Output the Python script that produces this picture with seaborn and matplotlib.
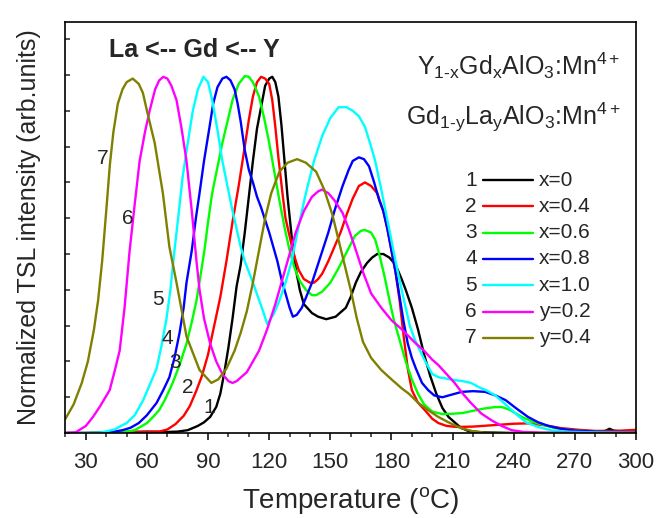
import numpy as np
import pandas as pd
import matplotlib
matplotlib.use("Agg")
import matplotlib.pyplot as plt
from matplotlib.lines import Line2D
import seaborn as sns

# ---------------- data ----------------
t1 = [20, 30, 40, 50, 60, 70, 75, 80, 85, 88, 91, 94, 96, 98, 100, 102, 104, 106, 108, 110, 112, 114, 116, 118,
      120, 121.5, 123, 124.5, 126, 127.5, 129, 131, 133, 135, 137, 141, 144, 148, 152.6, 157.6, 160, 162.5, 165,
      168, 170.5, 173, 176, 179, 182, 185, 187, 190, 193, 196, 199, 202, 205, 208, 211, 214, 218, 225, 240, 260,
      280, 285, 287, 289, 292, 300]
i1 = [0.0, 0.0, 0.002, 0.003, 0.004, 0.003, 0.004, 0.008, 0.02, 0.03, 0.045, 0.073, 0.11, 0.17, 0.24, 0.32, 0.41,
      0.47, 0.56, 0.66, 0.76, 0.85, 0.91, 0.97, 0.99, 0.995, 0.98, 0.94, 0.86, 0.76, 0.66, 0.55, 0.46, 0.40, 0.36,
      0.335, 0.325, 0.318, 0.325, 0.35, 0.38, 0.42, 0.45, 0.475, 0.49, 0.50, 0.50, 0.49, 0.47, 0.43, 0.40, 0.35,
      0.29, 0.22, 0.16, 0.11, 0.07, 0.045, 0.03, 0.015, 0.005, 0.002, 0.0, 0.0, 0.003, 0.006, 0.012, 0.007, 0.005,
      0.005]

t2 = [20, 40, 50, 60, 66, 70, 74, 78, 81, 84, 87, 90, 93, 96, 99, 102, 105, 108, 110, 112, 114, 116, 118, 120,
      121.5, 123, 124.5, 126.5, 128, 130, 132, 134.5, 137, 140, 142, 144, 146, 149, 152, 155, 158, 161, 164, 167,
      170, 173, 176, 178, 180, 182, 184, 186, 188, 190, 193, 197, 200, 203, 207, 212, 220, 230, 240, 247, 255,
      263, 272, 280, 290, 300]
i2 = [0.0, 0.0, 0.002, 0.003, 0.004, 0.01, 0.025, 0.048, 0.075, 0.115, 0.16, 0.22, 0.30, 0.38, 0.48, 0.59, 0.69,
      0.80, 0.875, 0.94, 0.98, 0.995, 0.99, 0.975, 0.93, 0.855, 0.77, 0.67, 0.60, 0.55, 0.50, 0.455, 0.43, 0.42,
      0.42, 0.43, 0.445, 0.48, 0.52, 0.56, 0.61, 0.655, 0.69, 0.70, 0.69, 0.67, 0.62, 0.57, 0.51, 0.45, 0.37,
      0.27, 0.18, 0.12, 0.085, 0.06, 0.04, 0.028, 0.02, 0.017, 0.018, 0.022, 0.026, 0.027, 0.022, 0.014, 0.009,
      0.006, 0.006, 0.009]

t3 = [20, 40, 48, 54, 60, 63, 66, 69, 72.6, 76, 79.4, 82, 84.3, 86, 88.2, 90, 92, 94.5, 97, 99.5, 102, 105, 108,
      110, 112, 115, 117.5, 120, 122.5, 125, 127.5, 130, 132.5, 135, 138, 141, 143, 146, 150, 154, 158, 162, 165,
      167, 170, 172, 174, 176.5, 178.7, 181, 184, 187, 190, 193, 196, 200, 205, 210, 215, 220, 225, 230, 234,
      238, 244, 250, 260, 270, 280, 290, 300]
i3 = [0.0, 0.0, 0.002, 0.008, 0.028, 0.045, 0.064, 0.095, 0.14, 0.19, 0.25, 0.31, 0.37, 0.43, 0.51, 0.59, 0.67,
      0.74, 0.81, 0.87, 0.93, 0.975, 0.997, 0.995, 0.98, 0.94, 0.88, 0.81, 0.73, 0.65, 0.575, 0.51, 0.46, 0.425,
      0.40, 0.385, 0.385, 0.395, 0.42, 0.46, 0.505, 0.55, 0.565, 0.567, 0.56, 0.54, 0.50, 0.44, 0.38, 0.32, 0.26,
      0.20, 0.15, 0.11, 0.08, 0.06, 0.053, 0.054, 0.056, 0.062, 0.068, 0.072, 0.073, 0.065, 0.045, 0.03, 0.014,
      0.007, 0.004, 0.002, 0.001]

t4 = [20, 35, 42, 48, 52, 56, 60, 64.7, 68, 71, 73.5, 76, 78, 79.4, 82, 84, 85.8, 88, 90.7, 92.5, 94.6, 97, 99,
      101, 103, 104.5, 106, 108, 110, 112, 114, 116, 118, 120, 122, 124, 126, 128, 130, 131.6, 133.5, 136, 141,
      145, 149, 152, 156, 159, 161, 164, 166.5, 169, 171.5, 174, 176, 178, 180, 182, 184, 186, 188, 190, 192,
      195, 198, 201, 205, 210, 214.5, 220, 226, 231, 236, 241, 247, 252, 257, 263, 270, 280, 300]
i4 = [0.0, 0.0, 0.002, 0.008, 0.015, 0.028, 0.05, 0.084, 0.12, 0.156, 0.21, 0.28, 0.35, 0.42, 0.51, 0.60, 0.67,
      0.76, 0.855, 0.92, 0.966, 0.99, 0.995, 0.985, 0.96, 0.92, 0.87, 0.79, 0.735, 0.70, 0.66, 0.63, 0.595, 0.56,
      0.52, 0.48, 0.43, 0.39, 0.35, 0.325, 0.33, 0.35, 0.42, 0.49, 0.56, 0.62, 0.69, 0.735, 0.76, 0.77, 0.765,
      0.745, 0.70, 0.65, 0.62, 0.57, 0.51, 0.45, 0.38, 0.31, 0.25, 0.21, 0.18, 0.14, 0.12, 0.105, 0.10, 0.108,
      0.115, 0.117, 0.115, 0.105, 0.092, 0.07, 0.045, 0.03, 0.02, 0.012, 0.007, 0.004, 0.002]

t5 = [20, 32, 38, 44, 50, 54, 58, 61, 64.7, 67, 69.6, 71.5, 73.5, 75.5, 77.5, 80, 82.5, 85, 87.7, 90, 92, 94.5,
      97, 99.5, 102, 104, 106, 108, 110, 112, 114.5, 117, 119, 122, 125, 128, 131, 134.5, 138, 142, 146, 150,
      154, 158, 161, 164, 167, 170, 172, 175, 178.7, 182, 185, 187, 189, 191.5, 194, 196.6, 200, 203, 207, 211,
      215, 219, 223, 227, 231, 235, 240.6, 246, 252, 258, 265, 280, 300]
i5 = [0.0, 0.0, 0.002, 0.01, 0.028, 0.05, 0.09, 0.13, 0.18, 0.24, 0.32, 0.40, 0.51, 0.61, 0.715, 0.81, 0.90,
      0.96, 0.995, 0.98, 0.93, 0.85, 0.76, 0.69, 0.62, 0.57, 0.52, 0.48, 0.45, 0.42, 0.38, 0.34, 0.305, 0.33,
      0.37, 0.42, 0.48, 0.58, 0.67, 0.76, 0.83, 0.88, 0.91, 0.91, 0.90, 0.885, 0.855, 0.80, 0.76, 0.68, 0.575,
      0.48, 0.40, 0.35, 0.30, 0.26, 0.23, 0.20, 0.165, 0.156, 0.152, 0.148, 0.145, 0.14, 0.128, 0.118, 0.105,
      0.085, 0.056, 0.03, 0.017, 0.008, 0.004, 0.002, 0.001]

t6 = [20, 25, 30, 33.5, 37, 41.7, 44, 46.6, 49, 51.5, 54, 56.4, 59, 61.3, 64, 66, 68, 70, 72, 74.5, 77, 79.4,
      82, 84.3, 85.8, 88, 91, 94, 97, 100, 102, 104, 106, 109, 112, 115, 119, 123, 127, 130, 133, 137, 141, 144,
      146, 149, 152, 156, 159, 162, 166, 170, 175, 180, 185, 188.5, 192, 196, 200, 203, 207, 211, 215, 219, 224,
      229, 234, 239, 245, 255, 300]
i6 = [0.0, 0.002, 0.02, 0.045, 0.075, 0.12, 0.17, 0.23, 0.35, 0.51, 0.64, 0.76, 0.84, 0.90, 0.96, 0.985, 0.995,
      0.99, 0.97, 0.93, 0.85, 0.76, 0.62, 0.48, 0.40, 0.32, 0.25, 0.20, 0.165, 0.145, 0.14, 0.145, 0.155, 0.17,
      0.20, 0.23, 0.29, 0.36, 0.44, 0.50, 0.56, 0.62, 0.66, 0.675, 0.68, 0.67, 0.65, 0.615, 0.57, 0.52, 0.45,
      0.39, 0.35, 0.315, 0.29, 0.27, 0.25, 0.23, 0.205, 0.19, 0.165, 0.14, 0.11, 0.084, 0.055, 0.036, 0.02,
      0.008, 0.003, 0.001, 0.0]

t7 = [20, 24, 28, 31, 34, 36, 38, 40, 41.8, 43.5, 45.7, 48, 50, 53, 56, 58, 60, 63.8, 67.8, 71, 74.5, 79.4, 85.8,
      91.6, 95, 99, 103, 106, 109, 112, 115, 118, 121, 125, 129, 133.7, 138, 143, 147, 151, 154, 157, 160, 163,
      166, 170, 175, 180, 185, 188.5, 193, 198, 203, 208, 214, 220, 226, 235, 300]
i7 = [0.04, 0.08, 0.14, 0.20, 0.29, 0.37, 0.48, 0.62, 0.75, 0.84, 0.92, 0.96, 0.98, 0.99, 0.975, 0.95, 0.90,
      0.81, 0.67, 0.52, 0.42, 0.27, 0.176, 0.14, 0.15, 0.18, 0.23, 0.28, 0.34, 0.42, 0.51, 0.60, 0.67, 0.73,
      0.755, 0.765, 0.755, 0.73, 0.68, 0.61, 0.54, 0.47, 0.40, 0.32, 0.255, 0.21, 0.176, 0.15, 0.125, 0.11,
      0.085, 0.064, 0.045, 0.03, 0.014, 0.005, 0.001, 0.0, 0.0]

curve_ids = ["1", "2", "3", "4", "5", "6", "7"]
legend_labels = ["x=0", "x=0.4", "x=0.6", "x=0.8", "x=1.0", "y=0.2", "y=0.4"]
colors = ["#000000", "#FF0000", "#00FF00", "#0000FF", "#00FFFF", "#FF00FF", "#808000"]
# where the curve numbers sit (temperature, intensity)
num_T = [90.7, 80.0, 73.6, 70.2, 65.3, 50.6, 38.3]
num_I = [0.07, 0.126, 0.196, 0.265, 0.372, 0.598, 0.768]

temps = [t1, t2, t3, t4, t5, t6, t7]
ints = [i1, i2, i3, i4, i5, i6, i7]

rows = []
for cid, tt, ii in zip(curve_ids, temps, ints):
    for a, b in zip(tt, ii):
        rows.append((cid, a, b))
df = pd.DataFrame(rows, columns=["curve", "T", "I"])

# ---------------- style ----------------
sns.set_style("ticks")
plt.rcParams["font.family"] = ["Liberation Sans", "DejaVu Sans"]
plt.rcParams["mathtext.fontset"] = "custom"
plt.rcParams["mathtext.rm"] = "Liberation Sans"
plt.rcParams["mathtext.it"] = "Liberation Sans"
plt.rcParams["mathtext.bf"] = "Liberation Sans:bold"

fig = plt.figure(figsize=(6.58, 5.18), dpi=100)
ax = fig.add_axes([0.0995, 0.164, 0.867, 0.7935])

sns.lineplot(data=df, x="T", y="I", hue="curve", palette=dict(zip(curve_ids, colors)),
             sort=False, estimator=None, legend=False, linewidth=1.7, ax=ax)

ax.set_xlim(20, 300)
ax.set_ylim(0, 1.148)
ax.set_xticks(np.arange(30, 301, 30))
ax.set_xticks(np.arange(20, 301, 10), minor=True)
ax.set_yticks(np.arange(0, 1.15, 0.1))
ax.set_yticklabels([])
ax.tick_params(axis="x", which="major", direction="out", length=5, width=1.1, labelsize=16, pad=9, color="black")
ax.tick_params(axis="x", which="minor", direction="out", length=3, width=1.1)
ax.tick_params(axis="y", which="major", direction="in", length=3.8, width=1.1, left=True)
for s in ax.spines.values():
    s.set_linewidth(1.2)
    s.set_color("black")
    s.set_visible(True)

ax.set_xlabel("Temperature ($\\mathregular{^{o}}$C)", fontsize=20, labelpad=8)
ax.set_ylabel("Normalized TSL intensity (arb.units)", fontsize=18, labelpad=14)

# curve numbers
for cid, xt, yt in zip(curve_ids, num_T, num_I):
    ax.text(xt, yt, cid, fontsize=15, ha="center", va="center")

# header texts
ax.text(0.076, 0.915, "La <-- Gd <-- Y", transform=ax.transAxes, fontsize=18, fontweight="bold",
        ha="left", va="baseline")
ax.text(0.972, 0.871, "Y$_{1\\text{-}x}$Gd$_{x}$AlO$_{3}$:Mn$^{4+}$", transform=ax.transAxes,
        fontsize=18, ha="right", va="baseline")
ax.text(0.972, 0.749, "Gd$_{1\\text{-}y}$La$_{y}$AlO$_{3}$:Mn$^{4+}$", transform=ax.transAxes,
        fontsize=18, ha="right", va="baseline")

# legend (number, line sample, label)
y0 = 0.6156
dy = 0.064
for k, (cid, lab, col) in enumerate(zip(curve_ids, legend_labels, colors)):
    yy = y0 - k * dy
    ax.text(0.711, yy, cid, transform=ax.transAxes, fontsize=15, ha="center", va="center")
    ax.add_line(Line2D([0.732, 0.819], [yy, yy], transform=ax.transAxes, color=col, linewidth=1.7))
    ax.text(0.830, yy, lab, transform=ax.transAxes, fontsize=15, ha="left", va="center")

fig.savefig("out.png", dpi=100)
